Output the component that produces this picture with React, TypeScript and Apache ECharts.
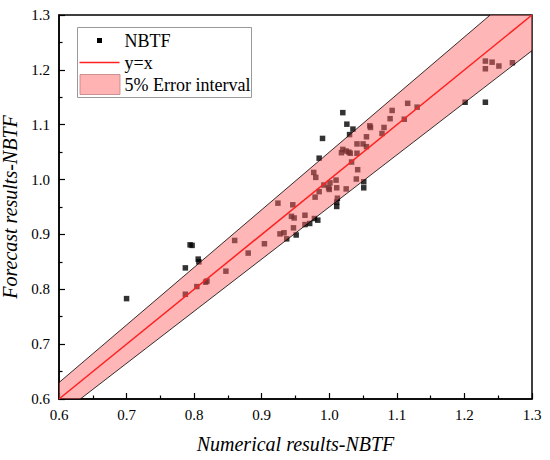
import React, { useEffect, useRef } from "react";
import * as echarts from "echarts";

const AXIS_MIN = 0.6;
const AXIS_MAX = 1.3;
const AXIS_STEP = 0.1;
const ERROR_RATE = 0.05;

const NUMERICAL: number[] = [
  0.700, 0.787, 0.787, 0.794, 0.797, 0.806, 0.807, 0.804, 0.817, 0.819,
  0.847, 0.860, 0.880, 0.904, 0.924, 0.927, 0.933, 0.937, 0.951, 0.944,
  0.948, 0.946, 0.947, 0.964, 0.964, 0.971, 0.978, 0.983, 0.979, 0.977,
  0.980, 0.985, 0.985, 0.990, 0.992, 0.999, 1.000, 1.001, 1.010, 1.011,
  1.011, 1.011, 1.012, 1.020, 1.026, 1.035, 1.030, 1.018, 1.020, 1.025,
  1.029, 1.031, 1.041, 1.025, 1.033, 1.040, 1.042, 1.041, 1.050, 1.055,
  1.055, 1.051, 1.051, 1.060, 1.061, 1.078, 1.081, 1.090, 1.093, 1.111,
  1.116, 1.130, 1.201, 1.231, 1.231, 1.241, 1.231, 1.251, 1.271,
];
const FORECAST: number[] = [
  0.783, 0.791, 0.839, 0.881, 0.880, 0.855, 0.850, 0.805, 0.813, 0.815,
  0.833, 0.889, 0.866, 0.883, 0.957, 0.901, 0.903, 0.892, 0.899, 0.933,
  0.930, 0.954, 0.912, 0.935, 0.918, 0.920, 0.929, 0.926, 0.968, 1.013,
  1.004, 0.978, 1.039, 1.075, 0.990, 0.985, 0.982, 0.994, 0.999, 0.985,
  0.951, 0.959, 0.966, 1.122, 1.101, 1.092, 1.082, 1.049, 1.055, 1.052,
  1.050, 1.048, 1.048, 0.983, 1.032, 1.001, 1.018, 1.065, 1.065, 1.060,
  1.078, 0.996, 0.985, 1.098, 1.095, 1.084, 1.095, 1.111, 1.126, 1.110,
  1.139, 1.132, 1.141, 1.141, 1.216, 1.214, 1.202, 1.207, 1.213,
];

const FONT = "Liberation Serif";

export default function App() {
  const ref = useRef<HTMLDivElement>(null);

  useEffect(() => {
    document.body.style.margin = "0";
    if (!ref.current) return;
    const chart = echarts.init(ref.current, null, { renderer: "svg" });

    const points = NUMERICAL.map((x, i) => [x, FORECAST[i]]);
    const up = 1 + ERROR_RATE;
    const lo = 1 - ERROR_RATE;
    const upperEdge = [
      [AXIS_MIN, AXIS_MIN * up],
      [AXIS_MAX / up, AXIS_MAX],
    ];
    const lowerEdge = [
      [AXIS_MIN / lo, AXIS_MIN],
      [AXIS_MAX, AXIS_MAX * lo],
    ];
    const bandPoly = [
      [AXIS_MIN, AXIS_MIN],
      [AXIS_MIN, AXIS_MIN * up],
      [AXIS_MAX / up, AXIS_MAX],
      [AXIS_MAX, AXIS_MAX],
      [AXIS_MAX, AXIS_MAX * lo],
      [AXIS_MIN / lo, AXIS_MIN],
    ];

    const axisCommon = {
      type: "value" as const,
      min: AXIS_MIN,
      max: AXIS_MAX,
      interval: AXIS_STEP,
      splitLine: { show: false },
      axisLine: { show: true, lineStyle: { color: "#000", width: 1.5 } },
      axisTick: { show: true, inside: true, length: 6, lineStyle: { color: "#000", width: 1.2 } },
      minorTick: { show: true, splitNumber: 2, length: 3.5, lineStyle: { color: "#000", width: 1.2 } },
      nameLocation: "middle" as const,
    };
    const nameStyle = {
      fontFamily: FONT,
      fontSize: 20,
      fontStyle: "italic",
      color: "#000",
    };
    const labelStyle = {
      fontFamily: FONT,
      fontSize: 15,
      color: "#000",
      formatter: (v: number) => v.toFixed(1),
    };

    chart.setOption({
      animation: false,
      textStyle: { fontFamily: FONT },
      grid: {
        left: 59,
        top: 15,
        right: 18,
        bottom: 61,
        containLabel: false,
        outerBoundsMode: "none",
        show: true,
        borderColor: "#000",
        borderWidth: 1.5,
        backgroundColor: "transparent",
      },
      xAxis: {
        ...axisCommon,
        name: "Numerical results-NBTF",
        nameGap: 35,
        nameTextStyle: nameStyle,
        axisLabel: { ...labelStyle, margin: 8 },
      },
      yAxis: {
        ...axisCommon,
        name: "Forecast results-NBTF",
        nameGap: 34,
        nameTextStyle: nameStyle,
        axisLabel: { ...labelStyle, margin: 9 },
      },
      series: [
        {
          name: "NBTF",
          type: "scatter",
          data: points,
          symbol: "rect",
          symbolSize: 5.5,
          itemStyle: { color: "#000" },
          z: 2,
        },
        {
          name: "5% Error interval",
          type: "custom",
          data: [[1, 1]],
          z: 3,
          renderItem: (_params: any, api: any) => ({
            type: "polygon",
            shape: { points: bandPoly.map((p) => api.coord(p)) },
            style: { fill: "rgba(255,100,100,0.47)", stroke: "none" },
          }),
        },
        {
          type: "line",
          data: upperEdge,
          showSymbol: false,
          symbol: "none",
          lineStyle: { color: "#000", width: 0.8 },
          z: 4,
          silent: true,
        },
        {
          type: "line",
          data: lowerEdge,
          showSymbol: false,
          symbol: "none",
          lineStyle: { color: "#000", width: 0.8 },
          z: 4,
          silent: true,
        },
        {
          name: "y=x",
          type: "line",
          data: [
            [AXIS_MIN, AXIS_MIN],
            [AXIS_MAX, AXIS_MAX],
          ],
          showSymbol: false,
          symbol: "none",
          lineStyle: { color: "#ff2020", width: 1.5 },
          z: 5,
          silent: true,
        },
      ],
      graphic: [
        {
          type: "group",
          left: 77,
          top: 27,
          z: 100,
          children: [
            {
              type: "rect",
              shape: { x: 0, y: 0, width: 174, height: 70 },
              style: { fill: "#fff", stroke: "#999", lineWidth: 1 },
            },
            {
              type: "rect",
              shape: { x: 19.5, y: 10.5, width: 5, height: 5 },
              style: { fill: "#000" },
            },
            {
              type: "text",
              x: 47,
              y: 13.5,
              style: { text: "NBTF", font: `18px ${FONT}`, fill: "#000", verticalAlign: "middle" },
            },
            {
              type: "line",
              shape: { x1: 2, y1: 35, x2: 42, y2: 35 },
              style: { stroke: "#ff2020", lineWidth: 1.5 },
            },
            {
              type: "text",
              x: 47,
              y: 35.5,
              style: { text: "y=x", font: `18px ${FONT}`, fill: "#000", verticalAlign: "middle" },
            },
            {
              type: "rect",
              shape: { x: 2.5, y: 47, width: 40, height: 20 },
              style: { fill: "#ffb3b3", stroke: "#c08080", lineWidth: 0.8 },
            },
            {
              type: "text",
              x: 47,
              y: 57.5,
              style: {
                text: "5% Error interval",
                font: `18px ${FONT}`,
                fill: "#000",
                verticalAlign: "middle",
              },
            },
          ],
        },
      ],
    });

    return () => chart.dispose();
  }, []);

  return <div ref={ref} style={{ width: 550, height: 460 }} />;
}
